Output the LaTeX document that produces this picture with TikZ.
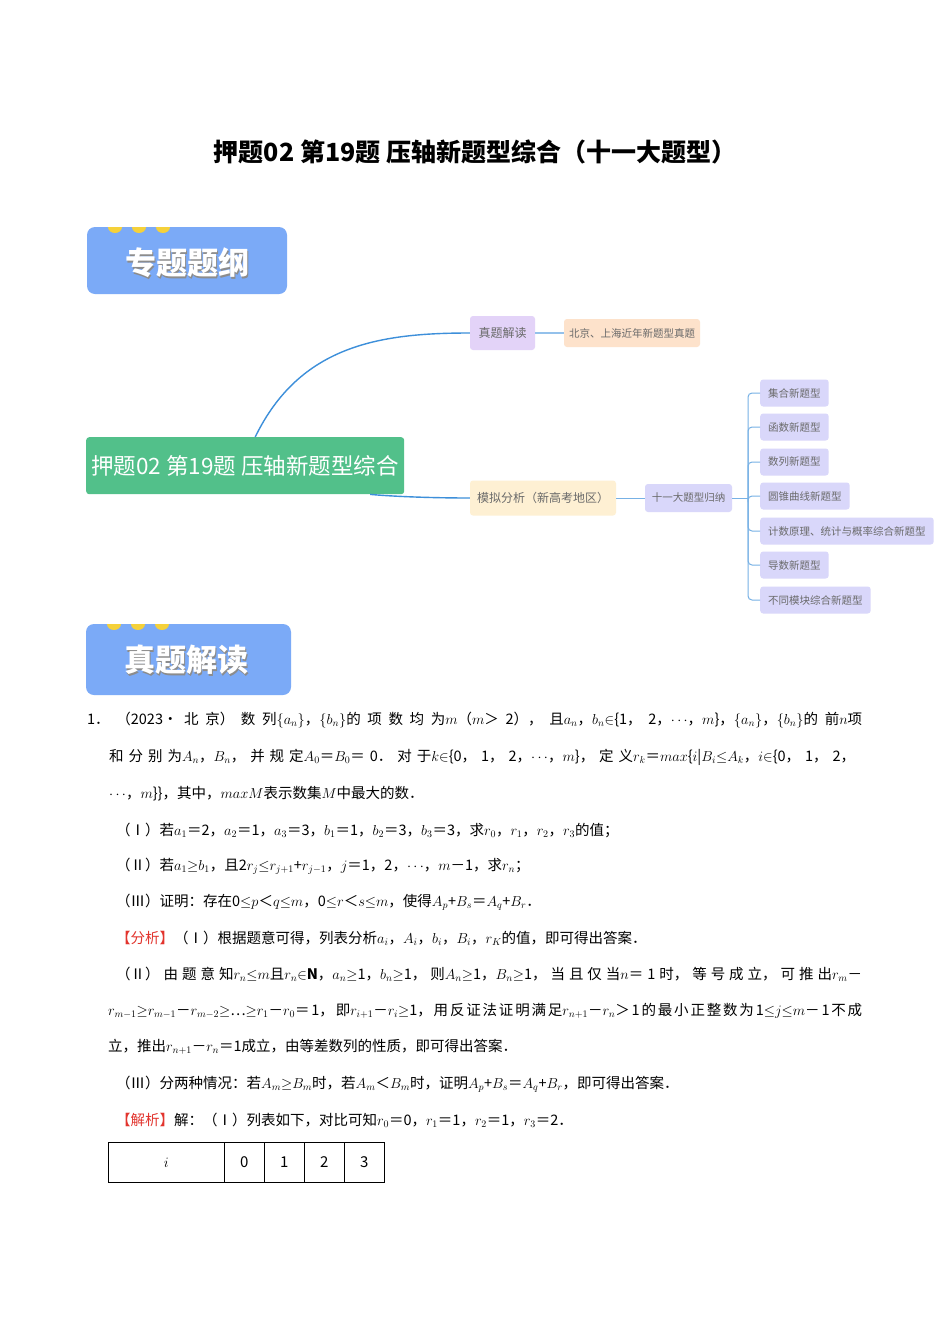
\documentclass[tikz,border=0pt]{standalone}
\usepackage{fontspec}
\setmainfont{Noto Sans CJK SC}
\newfontfamily\cjk{Noto Sans CJK SC}
\XeTeXlinebreaklocale "zh"
\XeTeXlinebreakskip=0pt plus 6pt
\definecolor{badge}{HTML}{7BAAF7}
\definecolor{dot}{HTML}{F5D13A}
\definecolor{mmgreen}{HTML}{52C08A}
\definecolor{lav}{HTML}{E3D3F8}
\definecolor{peach}{HTML}{FDE2CB}
\definecolor{cream}{HTML}{FEF0D3}
\definecolor{lilac}{HTML}{D9D7FA}
\definecolor{mmline}{HTML}{3D8FDA}
\definecolor{mmtext}{HTML}{6A6A6A}
\definecolor{redlab}{HTML}{E2342D}
\tikzset{
 mmbox/.style={rounded corners=3pt,inner sep=0pt,minimum height=30pt,text=mmtext,font=\cjk\fontsize{12}{14}\selectfont},
 leaf/.style={mmbox,fill=lilac,minimum height=27pt,anchor=west,inner xsep=8pt},
 mmedge/.style={draw=mmline,line width=1.4pt},
 brk/.style={draw=mmline!70,line width=1pt,rounded corners=4pt},
 line/.style={anchor=west,inner sep=0pt,font=\fontsize{14.5}{18}\selectfont},
 fline/.style={line,text width=#1,align=justify},
 cell/.style={draw,line width=0.8pt,minimum height=40pt,inner sep=0pt,anchor=north west,font=\fontsize{15}{18}\selectfont}
}
\begin{document}
\begin{tikzpicture}[x=1pt,y=-1pt]
\useasboundingbox[fill=white] (0,0) rectangle (950,1344);
\node (title) at (475,152) {\fontsize{25}{30}\selectfont\bfseries 押题02 第19题 压轴新题型综合（十一大题型）};
% badges
\foreach \bx/\by/\bw/\bh/\txt/\nm in {87/227/200/67/专题题纲/b1, 86/624/205/71/真题解读/b2}{
 \fill[badge,rounded corners=8pt] (\bx,\by) rectangle ++(\bw,\bh);
 \begin{scope}
 \clip (\bx,\by) rectangle ++(\bw,14);
 \foreach \k in {0,1,2}{\fill[dot] (\bx+28+\k*24,\by) ellipse (7pt and 6pt);}
 \end{scope}
 \node[text=black!45] at (\bx+101.5,\by+37.5) {\cjk\bfseries\fontsize{31}{33}\selectfont \txt};
 \node[text=white] (\nm) at (\bx+100,\by+36) {\cjk\bfseries\fontsize{31}{33}\selectfont \txt};
}
% mind map
\node[fill=mmgreen,rounded corners=3pt,minimum width=318pt,minimum height=57pt,text=white,anchor=north west,inner sep=0pt] (main) at (86,437) {\cjk\fontsize{22.5}{26}\selectfont 押题02 第19题 压轴新题型综合};
\node[mmbox,fill=lav,minimum width=65pt,minimum height=34pt] (zt) at (502.5,333) {真题解读};
\node[mmbox,fill=peach,minimum width=136pt,minimum height=28pt] (bj) at (632,333) {\fontsize{10.5}{12}\selectfont 北京、上海近年新题型真题};
\node[mmbox,fill=cream,minimum width=146pt,minimum height=35pt] (mn) at (543,498) {模拟分析（新高考地区）};
\node[mmbox,fill=lilac,minimum width=87pt,minimum height=28pt] (gn) at (688.5,498) {\fontsize{10.5}{12}\selectfont 十一大题型归纳};
\foreach \y/\t/\n in {393/集合新题型/l1,427/函数新题型/l2,462/数列新题型/l3,496/圆锥曲线新题型/l4,531/{计数原理、统计与概率综合新题型}/l5,565/导数新题型/l6,600/不同模块综合新题型/l7}{
 \node[leaf] (\n) at (760,\y) {\fontsize{10.5}{12}\selectfont \t};
 \draw[brk] (748,498) |- (\n.west);
}
\draw[mmedge] ([xshift=10pt]main.north) .. controls (300,345) and (380,333) .. (zt.west);
\draw[mmedge] ([xshift=125pt]main.south) .. controls (400,497) and (440,498) .. (mn.west);
\draw[brk,mmline!55,line width=1.8pt] (zt.east) -- (bj.west);
\draw[brk] (mn.east) -- (gn.west);
\draw[brk] (gn.east) -- (748,498);
% text
\node[fline=775pt] (t1) at (87,720) {\parfillskip=0pt 1．（2023•北京）数列$\{a_n\}$，$\{b_n\}$的项数均为$m$（$m$＞2），且$a_n$，$b_n$$\in$\{1，2，$\cdots$，$m$\}，$\{a_n\}$，$\{b_n\}$的前$n$项\par};
\node[fline=746pt] (t2) at (109,757) {\parfillskip=0pt 和分别为$A_n$，$B_n$，并规定$A_0$＝$B_0$＝0．对于$k$$\in$\{0，1，2，$\cdots$，$m$\}，定义$r_k$＝$max$\{$i$|$B_i$$\leq$$A_k$，$i$$\in$\{0，1，2，\par};
\node[line] (t3) at (109,794) {$\cdots$，$m$\}\}，其中，$maxM$表示数集$M$中最大的数．};
\node[line] (t4) at (116,830) {（Ⅰ）若$a_1$＝2，$a_2$＝1，$a_3$＝3，$b_1$＝1，$b_2$＝3，$b_3$＝3，求$r_0$，$r_1$，$r_2$，$r_3$的值；};
\node[line] (t5) at (116,866) {（Ⅱ）若$a_1$$\geq$$b_1$，且2$r_j$$\leq$$r_{j+1}$+$r_{j-1}$，$j$＝1，2，$\cdots$，$m$－1，求$r_n$；};
\node[line] (t6) at (116,902) {（Ⅲ）证明：存在0$\leq$$p$＜$q$$\leq$$m$，0$\leq$$r$＜$s$$\leq$$m$，使得$A_p$+$B_s$＝$A_q$+$B_r$．};
\node[line] (t7) at (116,938) {\textcolor{redlab}{【分析】}（Ⅰ）根据题意可得，列表分析$a_i$，$A_i$，$b_i$，$B_i$，$r_K$的值，即可得出答案．};
\node[fline=746pt] (t8) at (116,974) {\parfillskip=0pt （Ⅱ）由题意知$r_n$$\leq$$m$且$r_n$$\in$$\mathbf{N}$，$a_n$$\geq$1，$b_n$$\geq$1，则$A_n$$\geq$1，$B_n$$\geq$1，当且仅当$n$＝1时，等号成立，可推出$r_m$－\par};
\node[fline=754pt] (t9) at (108,1011) {\parfillskip=0pt $r_{m-1}$$\geq$$r_{m-1}$－$r_{m-2}$$\geq$…$\geq$$r_1$－$r_0$＝1，即$r_{i+1}$－$r_i$$\geq$1，用反证法证明满足$r_{n+1}$－$r_n$＞1的最小正整数为1$\leq$$j$$\leq$$m$－1不成\par};
\node[line] (t10) at (108,1047) {立，推出$r_{n+1}$－$r_n$＝1成立，由等差数列的性质，即可得出答案．};
\node[line] (t11) at (116,1084) {（Ⅲ）分两种情况：若$A_m$$\geq$$B_m$时，若$A_m$＜$B_m$时，证明$A_p$+$B_s$＝$A_q$+$B_r$，即可得出答案．};
\node[line] (t12) at (116,1120) {\textcolor{redlab}{【解析】}解：（Ⅰ）列表如下，对比可知$r_0$＝0，$r_1$＝1，$r_2$＝1，$r_3$＝2．};
% table
\node[cell,minimum width=116pt] (c0) at (108,1142) {$i$};
\node[cell,minimum width=40pt] (c1) at (224,1142) {0};
\node[cell,minimum width=40pt] (c2) at (264,1142) {1};
\node[cell,minimum width=40pt] (c3) at (304,1142) {2};
\node[cell,minimum width=40pt] (c4) at (344,1142) {3};
\end{tikzpicture}
\end{document}
